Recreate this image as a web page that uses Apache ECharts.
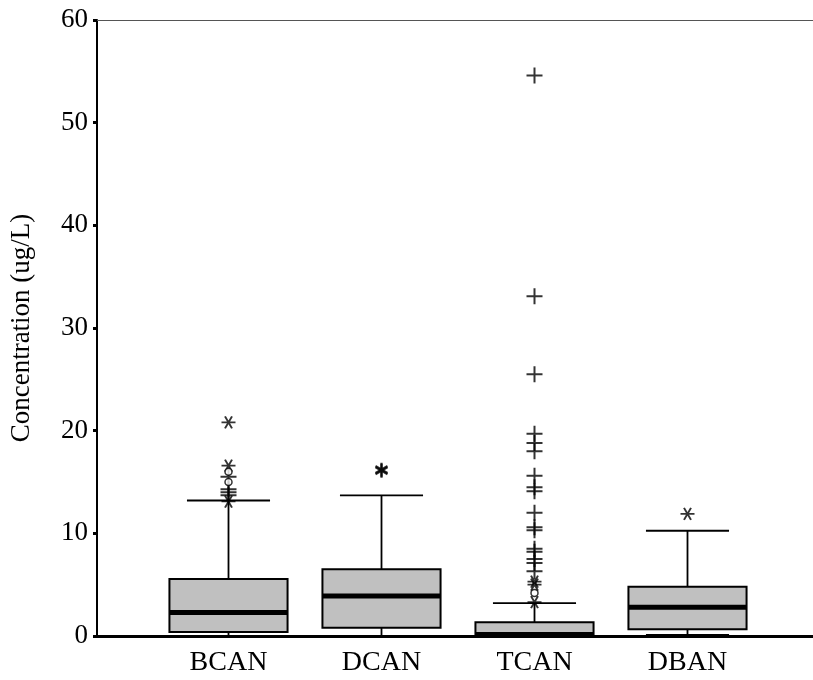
<!DOCTYPE html>
<html>
<head>
<meta charset="utf-8">
<script src="https://cdn.jsdelivr.net/npm/echarts@6/dist/echarts.min.js"></script>
<style>html,body{margin:0;padding:0;background:#fff;}#chart{width:813px;height:680px;}</style>
</head>
<body>
<div id="chart"></div>
<script>
// ---- data ----
const categories = ['BCAN', 'DCAN', 'TCAN', 'DBAN'];
const whiskerLow = [0, 0, 0, 0.1];
const q1 = [0.4, 0.8, 0.05, 0.65];
const median = [2.3, 3.9, 0.15, 2.8];
const q3 = [5.55, 6.5, 1.33, 4.8];
const whiskerHigh = [13.2, 13.7, 3.2, 10.25];

const bcanStar = [20.8, 16.6, 13.1];
const bcanCircle = [16.0, 15.0];
const bcanPlus = [15.5, 14.3, 14.0, 13.7];
const dcanStar = [16.1, 16.2];
const tcanPlus = [54.6, 33.1, 25.5, 19.7, 18.8, 18.0, 15.6, 14.5, 14.1, 12.0, 10.6, 10.3, 8.5, 8.2, 7.5, 7.1, 6.3];
const tcanStar = [5.3, 5.0, 3.3];
const tcanCircle = [4.2];
const dbanStar = [11.9];

const yMin = 0, yMax = 60, yStep = 10;
const yTitle = 'Concentration (ug/L)';

// ---- build ----
const FONT = "'Liberation Serif', 'Times New Roman', serif";
const boxData = categories.map((c, i) => [i, whiskerLow[i], q1[i], median[i], q3[i], whiskerHigh[i]]);
function pts(cat, arr) { return arr.map(v => [cat, v]); }

const PLUS = 'path://M0,5L10,5M5,0L5,10';
const STAR = 'path://M0,5L10,5M2.5,0.67L7.5,9.33M7.5,0.67L2.5,9.33';
const STARV = 'path://M5,0L5,10M0.67,2.5L9.33,7.5M0.67,7.5L9.33,2.5';

function renderBox(params, api) {
  const idx = api.value(0);
  const x = api.coord([idx, 0])[0];
  const bw = api.size([1, 0])[0];
  const boxW = bw * 0.772, capW = bw * 0.543;
  const yLow = api.coord([idx, api.value(1)])[1];
  const yQ1 = api.coord([idx, api.value(2)])[1];
  const yMed = api.coord([idx, api.value(3)])[1];
  const yQ3 = api.coord([idx, api.value(4)])[1];
  const yHigh = api.coord([idx, api.value(5)])[1];
  const ls = { stroke: '#000', lineWidth: 1.8 };
  return {
    type: 'group',
    children: [
      { type: 'line', shape: { x1: x, y1: yQ3, x2: x, y2: yHigh }, style: ls },
      { type: 'line', shape: { x1: x - capW / 2, y1: yHigh, x2: x + capW / 2, y2: yHigh }, style: ls },
      { type: 'line', shape: { x1: x, y1: yQ1, x2: x, y2: yLow }, style: ls },
      { type: 'line', shape: { x1: x - capW / 2, y1: yLow, x2: x + capW / 2, y2: yLow }, style: ls },
      { type: 'rect', shape: { x: x - boxW / 2, y: yQ3, width: boxW, height: yQ1 - yQ3 },
        style: { fill: '#c0c0c0', stroke: '#000', lineWidth: 2 } },
      { type: 'line', shape: { x1: x - boxW / 2, y1: yMed, x2: x + boxW / 2, y2: yMed },
        style: { stroke: '#000', lineWidth: 5 } }
    ]
  };
}

const chart = echarts.init(document.getElementById('chart'));
chart.setOption({
  animation: false,
  backgroundColor: '#fff',
  grid: [
    { left: 97, right: 0, top: 20, bottom: 44 },
    { left: 152, right: 49, top: 20, bottom: 44 }
  ],
  xAxis: [
    { gridIndex: 0, type: 'value', min: 0, max: 1, axisLabel: { show: false }, axisTick: { show: false },
      splitLine: { show: false }, axisLine: { lineStyle: { color: '#000', width: 3 } } },
    { gridIndex: 0, type: 'value', position: 'top', min: 0, max: 1, axisLabel: { show: false }, axisTick: { show: false },
      splitLine: { show: false }, axisLine: { lineStyle: { color: '#555', width: 1 } } },
    { gridIndex: 1, type: 'category', data: categories, offset: 3,
      axisLine: { show: false },
      axisTick: { show: true, alignWithLabel: true, length: 2, lineStyle: { color: '#000', width: 6 } },
      axisLabel: { color: '#000', fontFamily: FONT, fontSize: 28, margin: 10 } }
  ],
  yAxis: [
    { gridIndex: 0, type: 'value', min: yMin, max: yMax, interval: yStep,
      name: yTitle, nameLocation: 'middle', nameGap: 62, nameRotate: 90,
      nameTextStyle: { color: '#000', fontFamily: FONT, fontSize: 27 },
      axisLine: { show: true, lineStyle: { color: '#000', width: 2 } },
      axisTick: { show: true, length: 4, lineStyle: { color: '#000', width: 3 } },
      axisLabel: { color: '#000', fontFamily: FONT, fontSize: 27, margin: 9 },
      splitLine: { show: false } },
    { gridIndex: 1, type: 'value', min: yMin, max: yMax, interval: yStep, show: false, splitLine: { show: false } }
  ],
  series: [
    { type: 'custom', xAxisIndex: 2, yAxisIndex: 1, renderItem: renderBox, data: boxData,
      encode: { x: 0, y: [1, 2, 3, 4, 5] }, z: 3 },
    { type: 'scatter', xAxisIndex: 2, yAxisIndex: 1, symbol: PLUS, symbolSize: 16,
      itemStyle: { color: 'transparent', borderColor: '#000', borderWidth: 2 },
      data: pts('BCAN', bcanPlus).concat(pts('TCAN', tcanPlus)), z: 4 },
    { type: 'scatter', xAxisIndex: 2, yAxisIndex: 1, symbol: STAR, symbolSize: [14, 12],
      itemStyle: { color: 'transparent', borderColor: '#000', borderWidth: 1.8 },
      data: pts('BCAN', bcanStar).concat(pts('TCAN', tcanStar), pts('DBAN', dbanStar)), z: 4 },
    { type: 'scatter', xAxisIndex: 2, yAxisIndex: 1, symbol: STARV, symbolSize: [12, 14],
      itemStyle: { color: 'transparent', borderColor: '#000', borderWidth: 2.4 },
      data: pts('DCAN', dcanStar), z: 4 },
    { type: 'scatter', xAxisIndex: 2, yAxisIndex: 1, symbol: 'circle', symbolSize: 7,
      itemStyle: { color: '#fff', borderColor: '#000', borderWidth: 1.5 },
      data: pts('BCAN', bcanCircle).concat(pts('TCAN', tcanCircle)), z: 5 }
  ]
});
</script>
</body>
</html>
